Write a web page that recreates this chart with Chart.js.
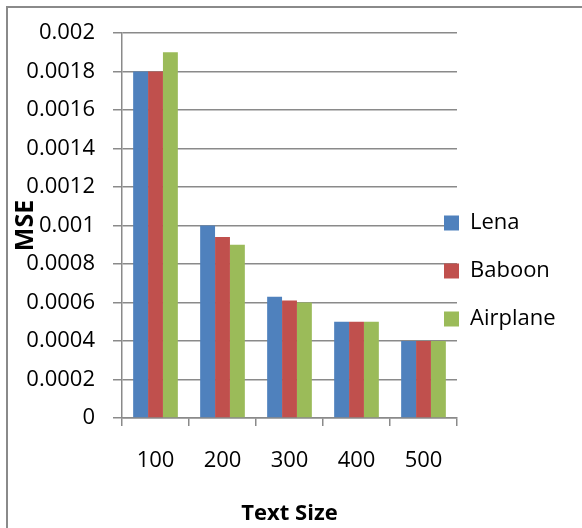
<!DOCTYPE html>
<html>
<head>
<meta charset="utf-8">
<script src="https://cdn.jsdelivr.net/npm/chart.js@4/dist/chart.umd.min.js"></script>
<style>
  html, body { margin: 0; padding: 0; background: #fff; }
  #wrap { position: relative; width: 582px; height: 528px; }
  #frame {
    position: absolute; left: 6px; top: 6px; width: 576px; height: 522px;
    border-left: 2px solid #8a8a8a; border-top: 2px solid #8a8a8a;
    box-sizing: border-box; pointer-events: none;
  }
  canvas { display: block; }
</style>
</head>
<body>
<div id="wrap">
  <canvas id="c" width="582" height="528"></canvas>
  <div id="frame"></div>
</div>
<script>
// Text sizes embedded in each test image
const textSizes = ['100', '200', '300', '400', '500'];

// Mean squared error per image
const lena     = [0.0018, 0.0010, 0.00063, 0.0005, 0.0004];
const baboon   = [0.0018, 0.00094, 0.00061, 0.0005, 0.0004];
const airplane = [0.0019, 0.0009, 0.0006, 0.0005, 0.0004];

// Value axis labels, bottom to top
const mseTicks = ['0', '0.0002', '0.0004', '0.0006', '0.0008', '0.001',
                  '0.0012', '0.0014', '0.0016', '0.0018', '0.002'];

const FONT = "'Open Sans', 'Liberation Sans', sans-serif";
const GRID = '#8a8a8a';

// Place the legend column beside the plot, overlapping its right edge
const legendPlacer = {
  id: 'legendPlacer',
  afterLayout(chart) {
    const lg = chart.legend;
    if (!lg) return;
    lg.left = 418;
    lg.top = 186;
    lg.right = 582;
    lg.bottom = 528;
    lg.width = lg.right - lg.left;
    lg.height = lg.bottom - lg.top;
  }
};

new Chart(document.getElementById('c'), {
  type: 'bar',
  data: {
    labels: textSizes,
    datasets: [
      { label: 'Lena',     data: lena,     backgroundColor: '#4F81BD' },
      { label: 'Baboon',   data: baboon,   backgroundColor: '#C0504D' },
      { label: 'Airplane', data: airplane, backgroundColor: '#9BBB59' }
    ]
  },
  options: {
    responsive: false,
    animation: false,
    devicePixelRatio: 1,
    layout: { padding: { left: 0, top: 33, right: 125, bottom: 0 } },
    datasets: { bar: { categoryPercentage: 0.667, barPercentage: 1.0, borderWidth: 0 } },
    plugins: {
      tooltip: { enabled: false },
      legend: {
        position: 'chartArea',
        align: 'start',
        labels: {
          boxWidth: 15, boxHeight: 15, padding: 26,
          color: '#000',
          font: { family: FONT, size: 22 }
        }
      }
    },
    scales: {
      x: {
        afterFit(s) { s.height = 110; },
        grid: { drawOnChartArea: false, drawTicks: true, tickLength: 8, color: GRID, lineWidth: 1.5 },
        border: { color: GRID, width: 1.5 },
        ticks: { color: '#000', padding: 22, font: { family: FONT, size: 22 } },
        title: {
          display: true, text: 'Text Size', color: '#000',
          font: { family: FONT, size: 22, weight: 'bold' },
          padding: { top: 0, bottom: 1 }
        }
      },
      y: {
        min: 0, max: 0.002,
        afterFit(s) { s.width = 122; },
        ticks: {
          stepSize: 0.0002, color: '#000', padding: 18,
          font: { family: FONT, size: 22 },
          callback: (v, i) => mseTicks[i]
        },
        grid: { color: GRID, lineWidth: 1.5, tickLength: 9 },
        border: { color: GRID, width: 1.5 },
        title: {
          display: true, text: 'MSE', color: '#000',
          font: { family: FONT, size: 25, weight: 'bold' },
          padding: { top: 11, bottom: 0 }
        }
      }
    }
  },
  plugins: [legendPlacer]
});
</script>
</body>
</html>
